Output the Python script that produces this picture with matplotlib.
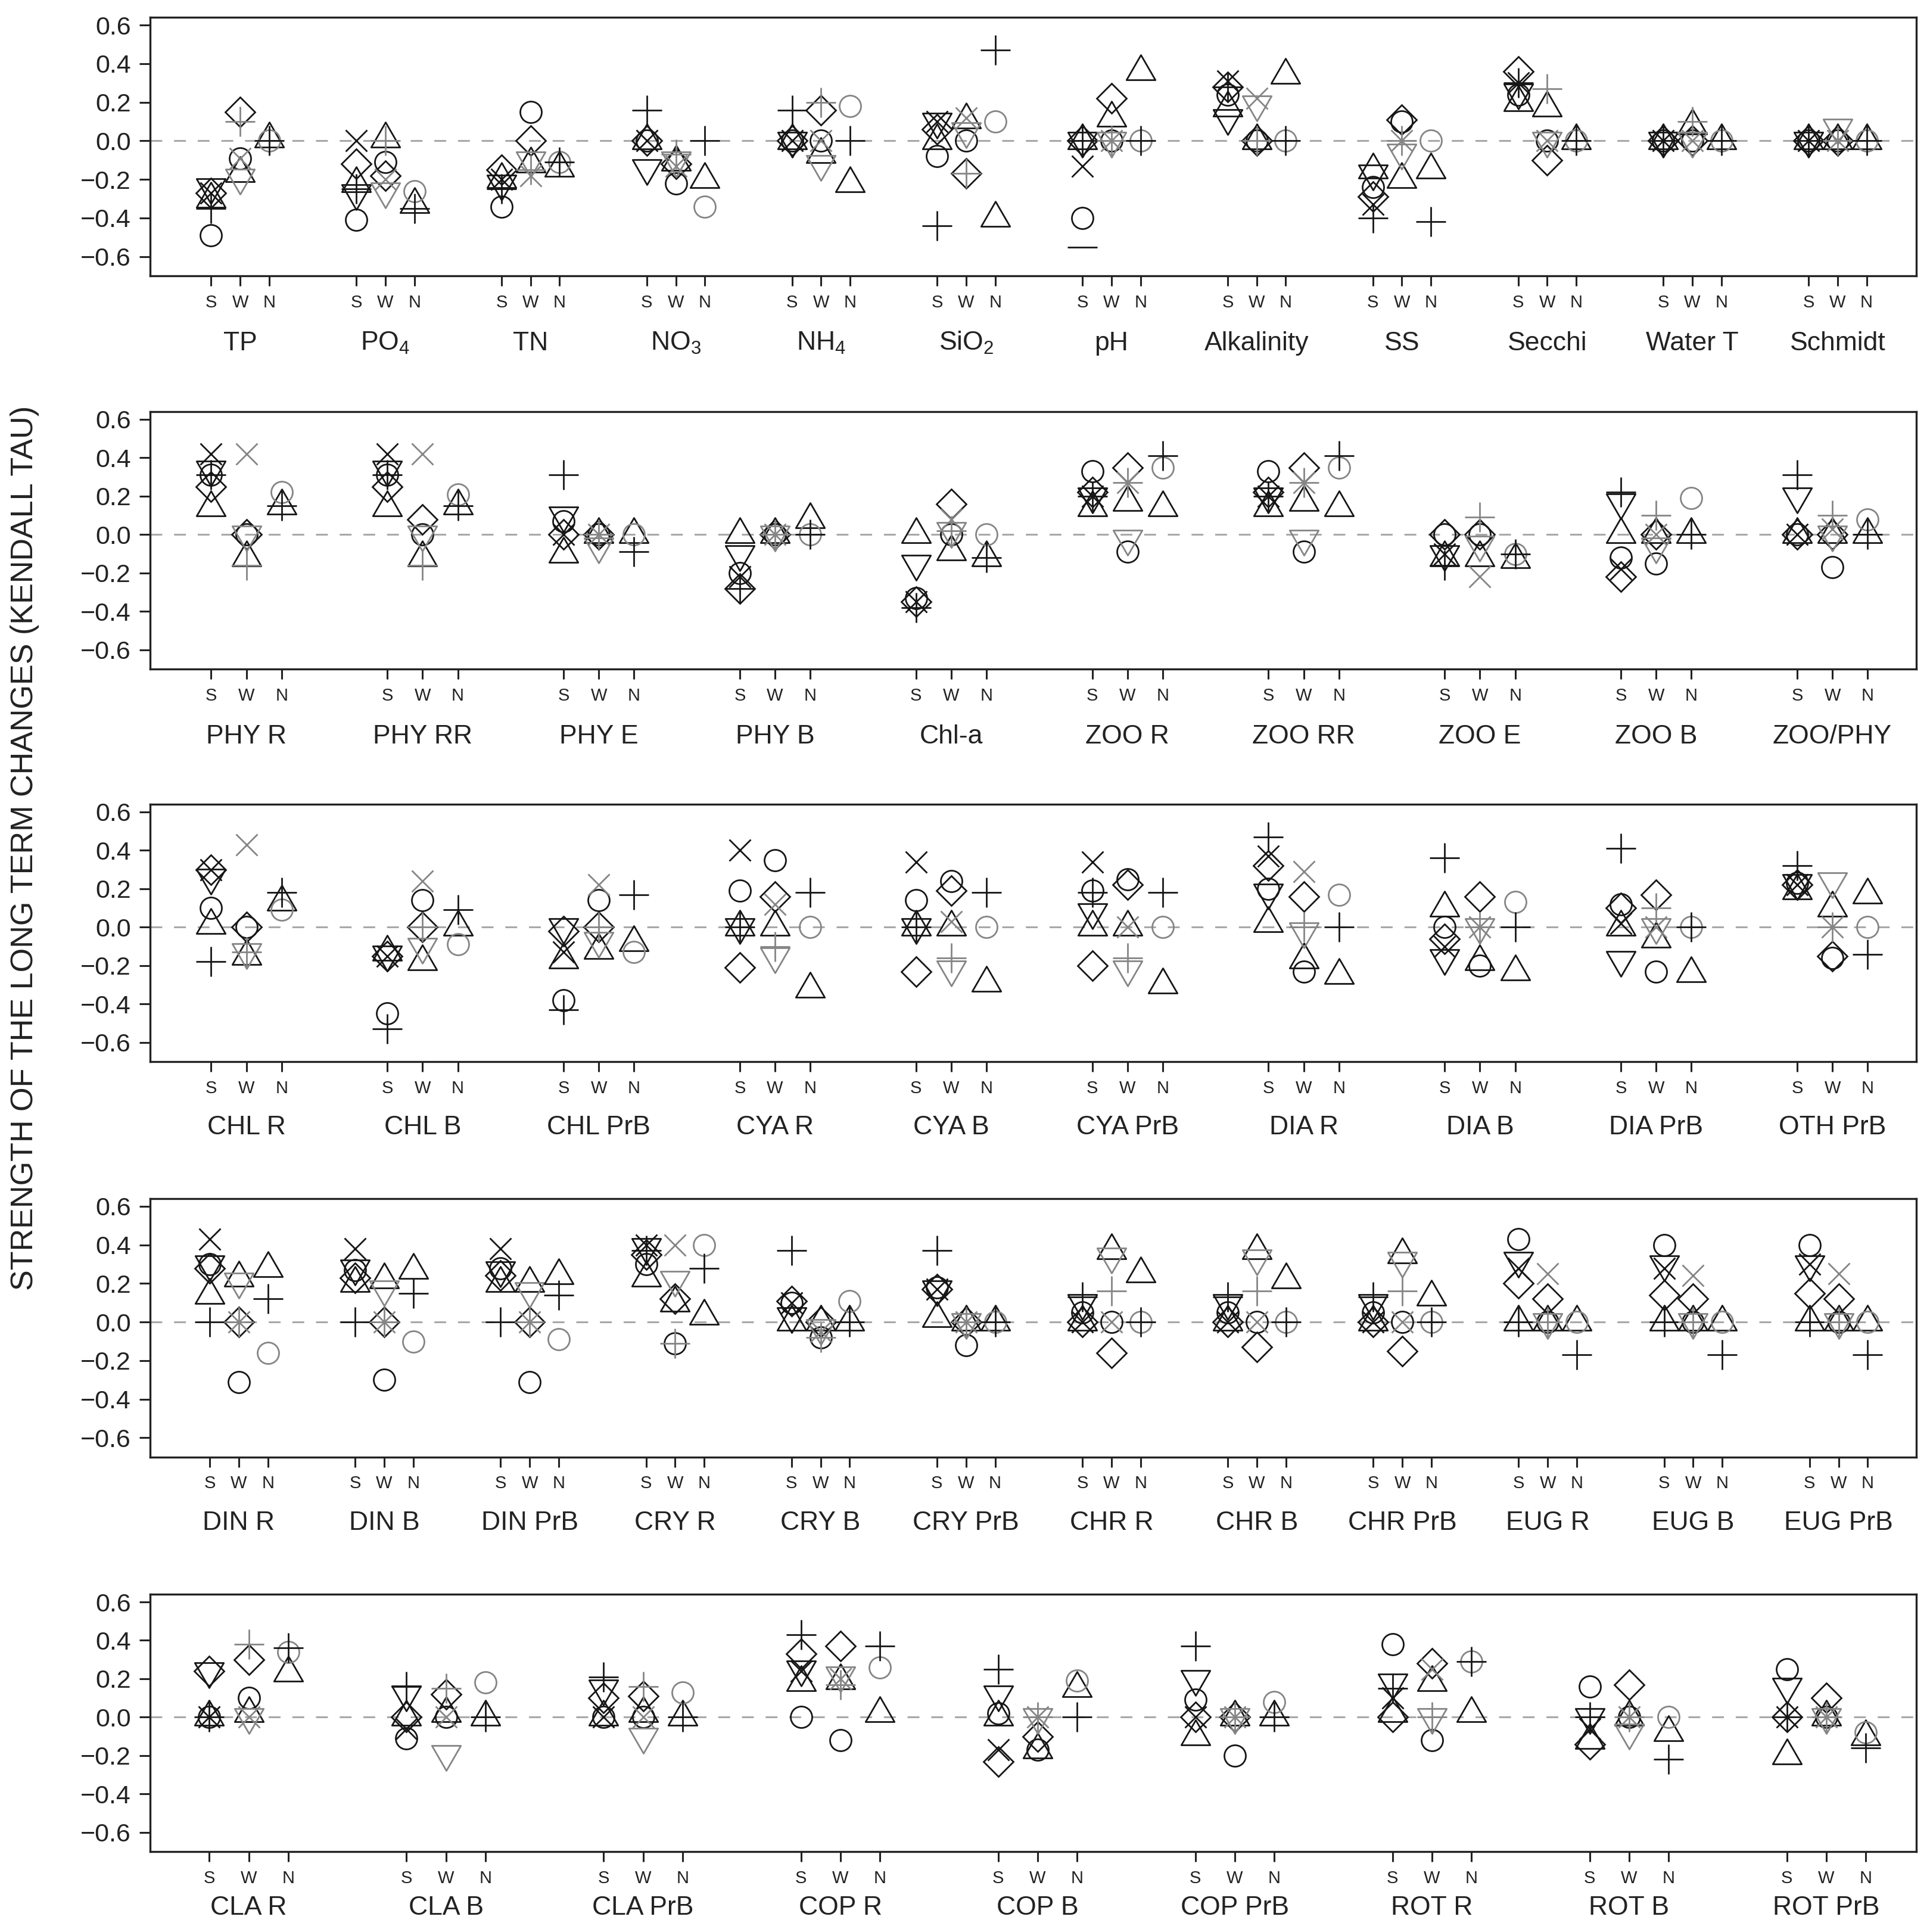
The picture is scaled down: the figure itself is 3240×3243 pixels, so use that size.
import matplotlib
matplotlib.use('Agg')
import matplotlib.pyplot as plt
from matplotlib.path import Path

plt.rcParams['font.family'] = ['Liberation Sans', 'DejaVu Sans']
plt.rcParams['mathtext.fontset'] = 'custom'
plt.rcParams['mathtext.rm'] = 'Liberation Sans'
plt.rcParams['mathtext.it'] = 'Liberation Sans:italic'
plt.rcParams['mathtext.bf'] = 'Liberation Sans:bold'

# ---------------- DATA ----------------
# S and W columns: circle, diamond, triangle-up, triangle-down, x, plus
# N columns: triangle-up, circle, plus
P1_groups = ['TP', 'PO$_4$', 'TN', 'NO$_3$', 'NH$_4$', 'SiO$_2$', 'pH', 'Alkalinity', 'SS', 'Secchi', 'Water T', 'Schmidt']
P1_S = [[-0.49, -0.27, -0.30, -0.24, -0.27, -0.35],
        [-0.41, -0.12, -0.22, -0.27, 0.00, -0.25],
        [-0.34, -0.15, -0.20, -0.22, -0.20, -0.25],
        [0.00, 0.00, 0.00, -0.14, 0.00, 0.16],
        [0.00, 0.00, 0.00, 0.00, 0.00, 0.16],
        [-0.08, 0.06, 0.00, 0.10, 0.10, -0.44],
        [-0.40, 0.00, 0.00, 0.00, -0.13, 0.00],
        [0.24, 0.28, 0.17, 0.12, 0.31, 0.28],
        [-0.24, -0.29, -0.15, -0.17, -0.33, -0.40],
        [0.24, 0.36, 0.20, 0.25, 0.30, 0.30],
        [0.00, 0.00, 0.00, 0.00, 0.00, 0.00],
        [0.00, 0.00, 0.00, 0.00, 0.00, 0.00]]
P1_W = [[-0.09, 0.15, -0.17, -0.19, -0.09, 0.10],
        [-0.11, -0.18, 0.01, -0.26, -0.20, 0.00],
        [0.15, 0.00, -0.12, -0.10, -0.18, -0.15],
        [-0.22, -0.12, -0.11, -0.10, -0.13, -0.07],
        [0.00, 0.16, -0.07, -0.12, 0.00, 0.20],
        [0.00, -0.17, 0.11, 0.05, 0.12, -0.17],
        [0.00, 0.22, 0.12, 0.00, 0.00, 0.00],
        [0.00, 0.00, 0.00, 0.19, 0.22, 0.00],
        [0.10, 0.11, -0.20, -0.06, 0.00, 0.00],
        [0.00, -0.10, 0.17, 0.00, 0.00, 0.27],
        [0.00, 0.00, 0.08, 0.00, 0.00, 0.10],
        [0.00, 0.00, 0.00, 0.07, 0.00, 0.00]]
P1_N = [[0.01, 0.00, 0.00], [-0.33, -0.26, -0.35], [-0.14, -0.11, -0.11],
        [-0.20, -0.34, 0.00], [-0.22, 0.18, 0.00], [-0.40, 0.10, 0.47],
        [0.36, 0.00, 0.00], [0.34, 0.00, 0.00], [-0.15, 0.00, -0.42],
        [0.00, 0.00, 0.00], [0.00, 0.00, 0.00], [0.00, 0.00, 0.00]]

P2_groups = ['PHY R', 'PHY RR', 'PHY E', 'PHY B', 'Chl-a', 'ZOO R', 'ZOO RR', 'ZOO E', 'ZOO B', 'ZOO/PHY']
P2_S = [[0.31, 0.25, 0.14, 0.34, 0.42, 0.31],
        [0.31, 0.25, 0.14, 0.34, 0.42, 0.31],
        [0.07, 0.00, -0.10, 0.10, 0.00, 0.31],
        [-0.20, -0.28, 0.00, -0.10, -0.22, -0.28],
        [-0.33, -0.35, 0.00, -0.15, -0.35, -0.38],
        [0.33, 0.22, 0.14, 0.20, 0.20, 0.20],
        [0.33, 0.22, 0.14, 0.20, 0.20, 0.20],
        [0.00, 0.00, -0.12, -0.10, -0.10, -0.16],
        [-0.12, -0.22, 0.00, 0.17, -0.18, 0.22],
        [0.00, 0.00, 0.00, 0.20, 0.00, 0.31]]
P2_W = [[0.00, 0.00, -0.12, 0.00, 0.42, -0.16],
        [0.00, 0.08, -0.12, 0.00, 0.42, -0.16],
        [0.00, 0.00, 0.00, -0.06, 0.00, 0.00],
        [0.00, 0.00, 0.00, 0.00, 0.00, 0.00],
        [0.00, 0.16, -0.09, 0.02, 0.08, 0.02],
        [-0.09, 0.35, 0.17, -0.02, 0.27, 0.27],
        [-0.09, 0.35, 0.17, -0.02, 0.27, 0.27],
        [0.00, 0.00, -0.12, -0.05, -0.22, 0.09],
        [-0.15, 0.00, 0.00, -0.06, 0.00, 0.10],
        [-0.17, 0.00, 0.00, 0.00, 0.03, 0.10]]
P2_N = [[0.15, 0.22, 0.15], [0.15, 0.21, 0.15], [0.00, 0.00, -0.09],
        [0.08, 0.00, 0.00], [-0.12, 0.00, -0.12], [0.14, 0.35, 0.41],
        [0.14, 0.35, 0.41], [-0.13, -0.10, -0.10], [0.00, 0.19, 0.00],
        [0.00, 0.08, 0.00]]

P3_groups = ['CHL R', 'CHL B', 'CHL PrB', 'CYA R', 'CYA B', 'CYA PrB', 'DIA R', 'DIA B', 'DIA PrB', 'OTH PrB']
P3_S = [[0.10, 0.30, 0.01, 0.26, 0.30, -0.18],
        [-0.45, -0.15, -0.13, -0.14, -0.15, -0.53],
        [-0.38, -0.02, -0.17, 0.00, -0.13, -0.43],
        [0.19, -0.21, 0.00, 0.00, 0.40, 0.00],
        [0.14, -0.23, 0.00, 0.00, 0.34, 0.00],
        [0.19, -0.20, 0.00, 0.08, 0.34, 0.18],
        [0.20, 0.32, 0.02, 0.18, 0.37, 0.47],
        [0.00, -0.06, 0.10, -0.16, -0.10, 0.36],
        [0.12, 0.10, 0.00, -0.17, 0.02, 0.41],
        [0.23, 0.22, 0.19, 0.23, 0.22, 0.32]]
P3_W = [[0.00, 0.00, -0.15, -0.13, 0.43, -0.13],
        [0.14, 0.00, -0.18, -0.10, 0.24, 0.00],
        [0.14, 0.00, -0.12, -0.07, 0.22, 0.00],
        [0.35, 0.16, 0.00, -0.15, 0.12, -0.10],
        [0.24, 0.19, 0.00, -0.22, 0.03, -0.16],
        [0.25, 0.22, 0.00, -0.22, 0.00, -0.16],
        [-0.23, 0.16, -0.17, -0.02, 0.29, 0.00],
        [-0.20, 0.16, -0.18, 0.00, 0.00, 0.00],
        [-0.23, 0.17, -0.06, 0.00, 0.00, 0.10],
        [-0.16, -0.15, 0.10, 0.24, 0.00, 0.00]]
P3_N = [[0.13, 0.09, 0.18], [0.00, -0.09, 0.09], [-0.08, -0.13, 0.17],
        [-0.32, 0.00, 0.18], [-0.29, 0.00, 0.18], [-0.30, 0.00, 0.18],
        [-0.25, 0.17, 0.00], [-0.23, 0.13, 0.00], [-0.24, 0.00, 0.00],
        [0.17, 0.00, -0.14]]

P4_groups = ['DIN R', 'DIN B', 'DIN PrB', 'CRY R', 'CRY B', 'CRY PrB', 'CHR R', 'CHR B', 'CHR PrB', 'EUG R', 'EUG B', 'EUG PrB']
P4_S = [[0.30, 0.28, 0.14, 0.30, 0.43, 0.00],
        [0.27, 0.23, 0.20, 0.28, 0.38, 0.00],
        [0.28, 0.24, 0.20, 0.27, 0.38, 0.00],
        [0.30, 0.35, 0.23, 0.39, 0.40, 0.37],
        [0.10, 0.11, 0.00, 0.03, 0.10, 0.37],
        [0.18, 0.17, 0.02, 0.17, 0.17, 0.37],
        [0.05, 0.00, 0.00, 0.10, 0.00, 0.13],
        [0.05, 0.00, 0.00, 0.10, 0.00, 0.13],
        [0.05, 0.00, 0.00, 0.10, 0.00, 0.13],
        [0.43, 0.20, 0.00, 0.32, 0.28, 0.00],
        [0.40, 0.14, 0.00, 0.30, 0.28, 0.00],
        [0.40, 0.15, 0.00, 0.30, 0.30, 0.00]]
P4_W = [[-0.31, 0.00, 0.23, 0.21, 0.00, 0.00],
        [-0.30, 0.00, 0.22, 0.17, 0.00, 0.00],
        [-0.31, 0.00, 0.20, 0.16, 0.00, 0.00],
        [-0.11, 0.12, 0.10, 0.22, 0.40, -0.11],
        [-0.08, 0.00, 0.00, -0.03, -0.05, -0.08],
        [-0.12, 0.00, 0.00, 0.00, 0.00, 0.00],
        [0.00, -0.16, 0.37, 0.34, 0.00, 0.16],
        [0.00, -0.13, 0.37, 0.33, 0.00, 0.16],
        [0.00, -0.15, 0.35, 0.32, 0.00, 0.16],
        [0.00, 0.12, 0.00, 0.00, 0.25, 0.00],
        [0.00, 0.12, 0.00, 0.00, 0.24, 0.00],
        [0.00, 0.12, 0.00, 0.00, 0.25, 0.00]]
P4_N = [[0.28, -0.16, 0.12], [0.27, -0.10, 0.15], [0.24, -0.09, 0.14],
        [0.03, 0.40, 0.28], [0.00, 0.11, 0.00], [0.00, 0.00, 0.00],
        [0.25, 0.00, 0.00], [0.22, 0.00, 0.00], [0.13, 0.00, 0.00],
        [0.00, 0.00, -0.17], [0.00, 0.00, -0.17], [0.00, 0.00, -0.17]]

P5_groups = ['CLA R', 'CLA B', 'CLA PrB', 'COP R', 'COP B', 'COP PrB', 'ROT R', 'ROT B', 'ROT PrB']
P5_S = [[0.00, 0.24, 0.00, 0.24, 0.00, 0.00],
        [-0.11, 0.00, 0.00, 0.12, -0.06, 0.16],
        [0.00, 0.10, 0.00, 0.15, 0.00, 0.21],
        [0.00, 0.33, 0.18, 0.25, 0.24, 0.43],
        [0.02, -0.23, 0.00, 0.12, -0.17, 0.25],
        [0.09, 0.00, -0.10, 0.20, 0.00, 0.37],
        [0.38, 0.00, 0.02, 0.18, 0.10, 0.15],
        [0.16, -0.14, -0.12, 0.00, -0.06, 0.00],
        [0.25, 0.00, -0.20, 0.16, 0.00, 0.00]]
P5_W = [[0.10, 0.30, 0.02, 0.00, 0.00, 0.38],
        [0.00, 0.12, 0.02, -0.19, 0.00, 0.15],
        [0.00, 0.11, 0.02, -0.10, 0.00, 0.16],
        [-0.12, 0.37, 0.19, 0.22, 0.20, 0.17],
        [-0.17, -0.10, -0.17, 0.00, 0.00, 0.00],
        [-0.20, 0.00, 0.00, 0.00, 0.00, 0.00],
        [-0.12, 0.28, 0.18, 0.00, 0.25, 0.00],
        [0.00, 0.17, 0.00, -0.08, 0.00, 0.00],
        [0.00, 0.10, 0.00, 0.00, 0.00, 0.00]]
P5_N = [[0.23, 0.34, 0.36], [0.00, 0.18, 0.00], [0.00, 0.13, 0.00],
        [0.02, 0.26, 0.37], [0.15, 0.19, 0.00], [0.00, 0.08, 0.00],
        [0.02, 0.29, 0.29], [-0.08, 0.00, -0.22], [-0.10, -0.08, -0.16]]

# stray dash mark below pH (S)
EXTRA_panel = [0]
EXTRA_group = [6]
EXTRA_value = [-0.55]

YTICKS = [0.6, 0.4, 0.2, 0.0, -0.2, -0.4, -0.6]
YTICKLABELS = ['0.6', '0.4', '0.2', '0.0', '\u22120.2', '\u22120.4', '\u22120.6']
POS_LABELS = ['S', 'W', 'N']
YLABEL = 'STRENGTH OF THE LONG TERM CHANGES (KENDALL TAU)'

# ---------------- STYLE ----------------
BLACK = '#161616'
GRAY = '#858585'
DPI = 100
PX = 72.0 / DPI            # points per pixel
R_PX = 18.0                # R symbol radius in pixels

TRI_UP = Path([(0, 1.555), (-1.347, -0.778), (1.347, -0.778), (0, 1.555)],
              [Path.MOVETO, Path.LINETO, Path.LINETO, Path.CLOSEPOLY])
TRI_DN = Path([(0, -1.555), (-1.347, 0.778), (1.347, 0.778), (0, -1.555)],
              [Path.MOVETO, Path.LINETO, Path.LINETO, Path.CLOSEPOLY])

MK = {
    'o': ('o', 2 * R_PX * PX),
    'D': ('D', 2 * R_PX * PX),
    '^': (TRI_UP, 3.11 * R_PX * PX),
    'v': (TRI_DN, 3.11 * R_PX * PX),
    'x': ('x', 2 * R_PX * PX),
    '+': ('+', 2.83 * R_PX * PX),
}
SW_KEYS = ['o', 'D', '^', 'v', 'x', '+']
S_COLORS = [BLACK] * 6
W_COLORS = [BLACK, BLACK, BLACK, GRAY, GRAY, GRAY]
N_KEYS = ['^', 'o', '+']
N_COLORS = [BLACK, GRAY, BLACK]
MEW = 2.0

panels = [
    (P1_groups, P1_S, P1_W, P1_N, (-1.10, 59.71), 0.8572, 0.1338, -90),
    (P2_groups, P2_S, P2_W, P2_N, (-0.73, 49.38), 0.6537, 0.1332, -90),
    (P3_groups, P3_S, P3_W, P3_N, (-0.73, 49.38), 0.4505, 0.1332, -88),
    (P4_groups, P4_S, P4_W, P4_N, (-1.05, 59.67), 0.2458, 0.1338, -88),
    (P5_groups, P5_S, P5_W, P5_N, (-0.50, 44.28), 0.0416, 0.1332, -76),
]

fig = plt.figure(figsize=(32.40, 32.43), dpi=DPI)
LEFT = 252 / 3240
WIDTH = (3217 - 252) / 3240

axes = []
for pi, (groups, S, W, N, xlim, bottom, height, lab_off) in enumerate(panels):
    ax = fig.add_axes([LEFT, bottom, WIDTH, height])
    axes.append(ax)
    n = len(groups)
    ax.axhline(0, color='#a8a8a8', lw=2.2, ls=(0, (6.5, 6.5)), zorder=1)

    def draw(pos_off, table, keys, colors):
        xs = [5 * k + 1 + pos_off for k in range(n)]
        for j, key in enumerate(keys):
            m, ms = MK[key]
            ys = [row[j] for row in table]
            ax.plot(xs, ys, linestyle='none', marker=m, markersize=ms,
                    markerfacecolor='none', markeredgecolor=colors[j],
                    markeredgewidth=MEW, zorder=3)

    draw(0, S, SW_KEYS, S_COLORS)
    draw(1, W, SW_KEYS, W_COLORS)
    draw(2, N, N_KEYS, N_COLORS)

    ax.set_xlim(*xlim)
    ax.set_ylim(-0.70, 0.64)
    ax.set_yticks(YTICKS)
    ax.set_yticklabels(YTICKLABELS)
    xt = []
    xl = []
    for k in range(n):
        for j in range(3):
            xt.append(5 * k + 1 + j)
            xl.append(POS_LABELS[j])
    ax.set_xticks(xt)
    ax.set_xticklabels(xl)
    ax.tick_params(axis='y', length=13, width=2.2, pad=10, labelsize=31,
                   colors='#222222', direction='out')
    ax.tick_params(axis='x', length=12, width=2.2, pad=10, labelsize=21,
                   colors='#222222', direction='out')
    for sp in ax.spines.values():
        sp.set_linewidth(2.4)
        sp.set_color('#222222')
    for k, g in enumerate(groups):
        ax.annotate(g, xy=(5 * k + 2, 0), xycoords=('data', 'axes fraction'),
                    xytext=(0, lab_off), textcoords='offset points',
                    ha='center', va='baseline', fontsize=32, color='#222222')

for p, g, v in zip(EXTRA_panel, EXTRA_group, EXTRA_value):
    axes[p].plot([5 * g + 1], [v], linestyle='none', marker='_',
                 markersize=2.83 * R_PX * PX, markeredgecolor=BLACK,
                 markeredgewidth=MEW, zorder=3)

fig.text(0.0127, 0.561, YLABEL, rotation=90, ha='center', va='center',
         fontsize=37.5, color='#222222')

fig.savefig('out.png', dpi=DPI)
